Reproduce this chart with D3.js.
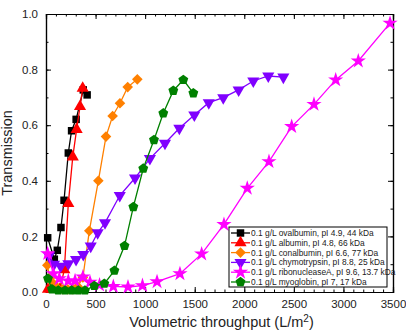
<!DOCTYPE html>
<html>
<head>
<meta charset="utf-8">
<script src="https://cdn.jsdelivr.net/npm/d3@7"></script>
<style>
  body { margin: 0; background: #fff; }
  text { font-family: Arial, "Liberation Sans", sans-serif; }
</style>
</head>
<body>
<div id="chart"></div>
<script>
// data: [throughput L/m2, transmission]
const seriesNames = [
  "0.1 g/L ovalbumin, pI 4.9, 44 kDa",
  "0.1 g/L albumin, pI 4.8, 66 kDa",
  "0.1 g/L conalbumin, pI 6.6, 77 kDa",
  "0.1 g/L chymotrypsin, pI 8.8, 25 kDa",
  "0.1 g/L ribonucleaseA, pI 9.6, 13.7 kDa",
  "0.1 g/L myoglobin, pI 7, 17 kDa"
];
const ovalbumin = [[17,0.195],[84,0.118],[114,0.15],[151,0.232],[182,0.33],[225,0.50],[258,0.58],[304,0.621],[376,0.727],[415,0.709]];
const albumin = [[20,0.01],[60,0.01],[100,0.01],[140,0.01],[185,0.08],[225,0.318],[270,0.486],[309,0.585],[343,0.667],[370,0.733]];
const conalbumin = [[13,0.096],[40,0.05],[75,0.03],[120,0.012],[170,0.01],[220,0.01],[270,0.01],[320,0.02],[372,0.052],[437,0.22],[528,0.40],[605,0.559],[672,0.633],[746,0.679],[824,0.737],[921,0.765]];
const chymotrypsin = [[30,0.13],[80,0.10],[148,0.093],[225,0.102],[303,0.117],[376,0.135],[451,0.165],[521,0.213],[595,0.249],[744,0.347],[898,0.41],[1048,0.48],[1200,0.535],[1345,0.589],[1496,0.637],[1642,0.681],[1788,0.699],[1943,0.727],[2091,0.759],[2242,0.777],[2394,0.773]];
const ribonucleaseA = [[17,0.138],[74,0.066],[134,0.048],[225,0.04],[293,0.04],[372,0.054],[444,0.035],[540,0.025],[679,0.02],[827,0.018],[973,0.023],[1120,0.037],[1351,0.066],[1570,0.137],[1795,0.243],[2030,0.373],[2249,0.469],[2478,0.595],[2703,0.675],[2922,0.763],[3150,0.831],[3470,0.967]];
const myoglobin = [[20,0.048],[60,0.01],[124,0.006],[192,0.006],[259,0.006],[326,0.006],[393,0.006],[487,0.022],[588,0.03],[690,0.077],[792,0.166],[881,0.306],[981,0.444],[1089,0.547],[1183,0.643],[1284,0.724],[1385,0.763],[1486,0.715]];

const xTicks = [0, 500, 1000, 1500, 2000, 2500, 3000, 3500];
const yTicks = [0.0, 0.2, 0.4, 0.6, 0.8, 1.0];

const seriesData = [ovalbumin, albumin, conalbumin, chymotrypsin, ribonucleaseA, myoglobin];
const colors = ["#000000", "#ff0000", "#ff8000", "#8000ff", "#ff00ff", "#008000"];

// canvas layout
var W = 406, H = 336;
var margin = { top: 14, right: 13, bottom: 44, left: 46 };
var width = W - margin.left - margin.right;
var height = H - margin.top - margin.bottom;

var svg = d3.select("#chart").append("svg")
    .attr("width", W).attr("height", H)
    .append("g")
    .attr("transform", "translate(" + margin.left + "," + margin.top + ")");

var x = d3.scaleLinear().domain([0, 3500]).range([0, width]);
var y = d3.scaleLinear().domain([0, 1]).range([height, 0]);

// minor ticks
var xMinor = d3.range(0, 3501, 100);
var yMinor = d3.range(0, 1.001, 0.1);

function styleAxis(g) {
  g.selectAll("path.domain").attr("stroke", "#000").attr("stroke-width", 1.2);
  g.selectAll(".tick line").attr("stroke", "#000").attr("stroke-width", 1);
  g.selectAll(".tick text").attr("font-size", 11.5).attr("fill", "#222");
}

// bottom
svg.append("g").attr("transform", "translate(0," + height + ")")
  .call(d3.axisBottom(x).tickValues(xMinor).tickSize(-2.5).tickFormat(""))
  .call(styleAxis);
svg.append("g").attr("transform", "translate(0," + height + ")")
  .call(d3.axisBottom(x).tickValues(xTicks).tickSize(-5).tickPadding(8).tickFormat(d3.format("d")))
  .call(styleAxis);
// top
svg.append("g")
  .call(d3.axisTop(x).tickValues(xMinor).tickSize(-2.5).tickFormat(""))
  .call(styleAxis);
svg.append("g")
  .call(d3.axisTop(x).tickValues(xTicks).tickSize(-5).tickFormat(""))
  .call(styleAxis);
// left
svg.append("g")
  .call(d3.axisLeft(y).tickValues(yMinor).tickSize(-2.5).tickFormat(""))
  .call(styleAxis);
svg.append("g")
  .call(d3.axisLeft(y).tickValues(yTicks).tickSize(-5).tickPadding(8).tickFormat(d3.format(".1f")))
  .call(styleAxis);
// right
svg.append("g").attr("transform", "translate(" + width + ",0)")
  .call(d3.axisRight(y).tickValues(yMinor).tickSize(-2.5).tickFormat(""))
  .call(styleAxis);
svg.append("g").attr("transform", "translate(" + width + ",0)")
  .call(d3.axisRight(y).tickValues(yTicks).tickSize(-5).tickFormat(""))
  .call(styleAxis);

// axis titles
svg.append("text")
  .attr("transform", "translate(" + (-34) + "," + (height / 2) + ") rotate(-90)")
  .attr("text-anchor", "middle")
  .attr("font-size", 14.5).attr("fill", "#222")
  .text("Transmission");

var xt = svg.append("text")
  .attr("x", width / 2 + 2).attr("y", height + 35)
  .attr("text-anchor", "middle")
  .attr("font-size", 14.5).attr("fill", "#222")
  .text("Volumetric throughput (L/m");
xt.append("tspan").attr("dy", -5).attr("font-size", 10).text("2");
xt.append("tspan").attr("dy", 5).text(")");

// marker shapes
function pentagon(r) {
  var p = [];
  for (var i = 0; i < 5; i++) {
    var a = -Math.PI / 2 + i * 2 * Math.PI / 5;
    p.push([r * Math.cos(a), r * Math.sin(a)]);
  }
  return "M" + p.join("L") + "Z";
}
function diamond(r) {
  return "M0," + (-r) + "L" + r + ",0L0," + r + "L" + (-r) + ",0Z";
}
var markers = [
  d3.symbol(d3.symbolSquare, 56)(),
  d3.symbol(d3.symbolTriangle, 64)(),
  diamond(5.3),
  d3.symbol(d3.symbolTriangle, 64)(),
  d3.symbol(d3.symbolStar, 72)(),
  pentagon(5.2)
];
var rotations = [0, 0, 0, 180, 0, 0];

var line = d3.line()
  .x(function (d) { return x(d[0]); })
  .y(function (d) { return y(d[1]); });

seriesData.forEach(function (data, i) {
  var g = svg.append("g");
  g.append("path")
    .datum(data)
    .attr("fill", "none")
    .attr("stroke", colors[i])
    .attr("stroke-width", 1.3)
    .attr("d", line);
  g.selectAll("path.pt")
    .data(data)
    .join("path")
    .attr("class", "pt")
    .attr("d", markers[i])
    .attr("fill", colors[i])
    .attr("transform", function (d) {
      return "translate(" + x(d[0]) + "," + y(d[1]) + ") rotate(" + rotations[i] + ")";
    });
});

// legend
var lg = svg.append("g").attr("transform", "translate(" + (229 - margin.left) + "," + (227 - margin.top) + ")");
lg.append("rect")
  .attr("width", 158).attr("height", 60)
  .attr("fill", "#fff").attr("stroke", "#000").attr("stroke-width", 1);
seriesNames.forEach(function (name, i) {
  var ly = 6 + i * 9.8;
  lg.append("line")
    .attr("x1", 2).attr("x2", 21)
    .attr("y1", ly).attr("y2", ly)
    .attr("stroke", colors[i]).attr("stroke-width", 1.3);
  lg.append("path")
    .attr("d", markers[i])
    .attr("fill", colors[i])
    .attr("transform", "translate(11.5," + ly + ") rotate(" + rotations[i] + ")");
  lg.append("text")
    .attr("x", 22).attr("y", ly + 3)
    .attr("font-size", 8.4).attr("fill", "#222")
    .text(name);
});
</script>
</body>
</html>
